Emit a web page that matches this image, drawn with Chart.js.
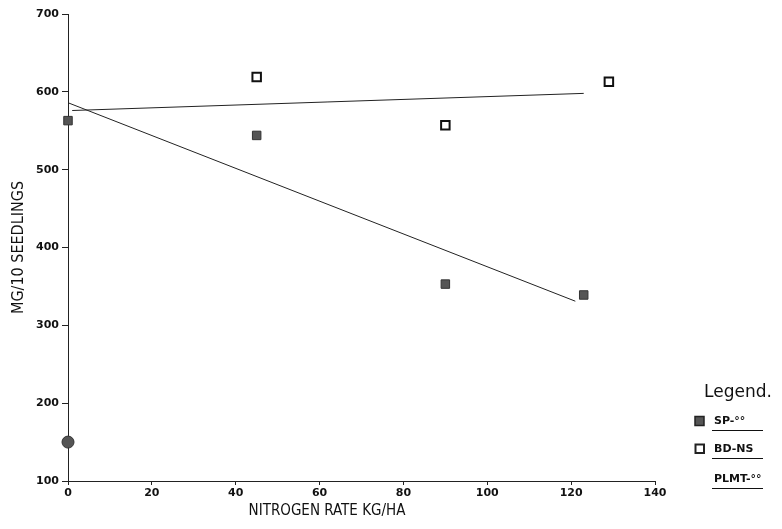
<!DOCTYPE html>
<html>
<head>
<meta charset="utf-8">
<script src="https://cdn.jsdelivr.net/npm/chart.js@4.4.1/dist/chart.umd.min.js"></script>
<style>
  html, body { margin: 0; padding: 0; background: #fff; }
  #wrap { width: 782px; height: 529px; }
</style>
</head>
<body>
<div id="wrap"><canvas id="chart" width="782" height="529"></canvas></div>
<script>
// nitrogen rates (kg/ha) and measured values
const spX = [0, 45, 90, 123];
const spY = [563, 544, 353, 339];
const bdX = [45, 90, 129];
const bdY = [619, 557, 613];
const plmtX = [0];
const plmtY = [150];

// hand-drawn trend lines (end points)
const spLineX = [0, 121];
const spLineY = [586, 331];
const bdLineX = [1, 123];
const bdLineY = [576, 598];

const xTicks = [0, 20, 40, 60, 80, 100, 120, 140];
const yTicks = [100, 200, 300, 400, 500, 600, 700];

const legendItems = ['SP-°°', 'BD-NS', 'PLMT-°°'];

const pts = (xs, ys) => xs.map((x, i) => ({ x: x, y: ys[i] }));

const tickFont = { family: 'DejaVu Sans', size: 11, weight: 'bold' };
const titleFont = '15px "DejaVu Sans Condensed", "DejaVu Sans"';

const extras = {
  id: 'extras',
  afterDraw(chart) {
    const ctx = chart.ctx;
    ctx.save();
    ctx.fillStyle = '#111';
    ctx.font = titleFont;
    ctx.textAlign = 'center';
    ctx.textBaseline = 'middle';
    ctx.fillText('NITROGEN RATE KG/HA', 327, 511);

    // legend
    ctx.textAlign = 'left';
    ctx.font = '17px "DejaVu Sans"';
    ctx.fillText('Legend.', 704, 393);
    ctx.font = 'bold 11px "DejaVu Sans"';
    const rows = [421, 449, 479];
    ctx.strokeStyle = '#111';
    ctx.lineWidth = 1;
    legendItems.forEach((t, i) => {
      ctx.fillText(t, 714, rows[i]);
      ctx.beginPath();
      ctx.moveTo(712, rows[i] + 9.5);
      ctx.lineTo(763, rows[i] + 9.5);
      ctx.stroke();
    });
    // markers
    ctx.fillStyle = '#555';
    ctx.strokeStyle = '#222';
    ctx.lineWidth = 1.5;
    ctx.fillRect(695, rows[0] - 4.5, 9, 9);
    ctx.strokeRect(695, rows[0] - 4.5, 9, 9);
    ctx.lineWidth = 2;
    ctx.strokeRect(695.5, rows[1] - 4.5, 8.5, 8.5);
    ctx.restore();
  }
};

new Chart(document.getElementById('chart'), {
  type: 'scatter',
  data: {
    datasets: [
      {
        label: 'SP trend',
        type: 'line',
        data: pts(spLineX, spLineY),
        borderColor: '#222',
        borderWidth: 1,
        pointRadius: 0,
        fill: false
      },
      {
        label: 'BD trend',
        type: 'line',
        data: pts(bdLineX, bdLineY),
        borderColor: '#222',
        borderWidth: 1,
        pointRadius: 0,
        fill: false
      },
      {
        label: legendItems[0],
        data: pts(spX, spY),
        pointStyle: 'rect',
        pointRadius: 6,
        backgroundColor: '#555',
        borderColor: '#333',
        borderWidth: 1,
        clip: false
      },
      {
        label: legendItems[1],
        data: pts(bdX, bdY),
        pointStyle: 'rect',
        pointRadius: 6,
        backgroundColor: '#fff',
        borderColor: '#111',
        borderWidth: 2,
        clip: false
      },
      {
        label: legendItems[2],
        data: pts(plmtX, plmtY),
        pointStyle: 'circle',
        pointRadius: 6,
        backgroundColor: '#555',
        borderColor: '#333',
        borderWidth: 1,
        clip: false
      }
    ]
  },
  options: {
    responsive: false,
    animation: false,
    layout: { padding: { top: 14, right: 127, bottom: 0, left: 0 } },
    plugins: {
      legend: { display: false },
      tooltip: { enabled: false }
    },
    scales: {
      x: {
        type: 'linear',
        min: 0,
        max: 140,
        afterBuildTicks: s => { s.ticks = xTicks.map(v => ({ value: v })); },
        afterFit: s => { s.height = 48; },
        grid: { display: true, drawOnChartArea: false, drawTicks: true, tickLength: 4, color: '#222' },
        border: { display: true, color: '#222', width: 1 },
        ticks: { color: '#111', font: tickFont, padding: 2, maxRotation: 0 }
      },
      y: {
        type: 'linear',
        min: 100,
        max: 700,
        afterBuildTicks: s => { s.ticks = yTicks.map(v => ({ value: v })); },
        afterFit: s => { s.width = 68; },
        grid: { display: true, drawOnChartArea: false, drawTicks: true, tickLength: 6, color: '#222' },
        border: { display: true, color: '#222', width: 1 },
        title: {
          display: true,
          text: 'MG/10 SEEDLINGS',
          color: '#111',
          font: { family: '"DejaVu Sans Condensed", "DejaVu Sans"', size: 16 },
          padding: { top: 9, bottom: 2 }
        },
        ticks: { color: '#111', font: tickFont, padding: 3 }
      }
    }
  },
  plugins: [extras]
});
</script>
</body>
</html>
